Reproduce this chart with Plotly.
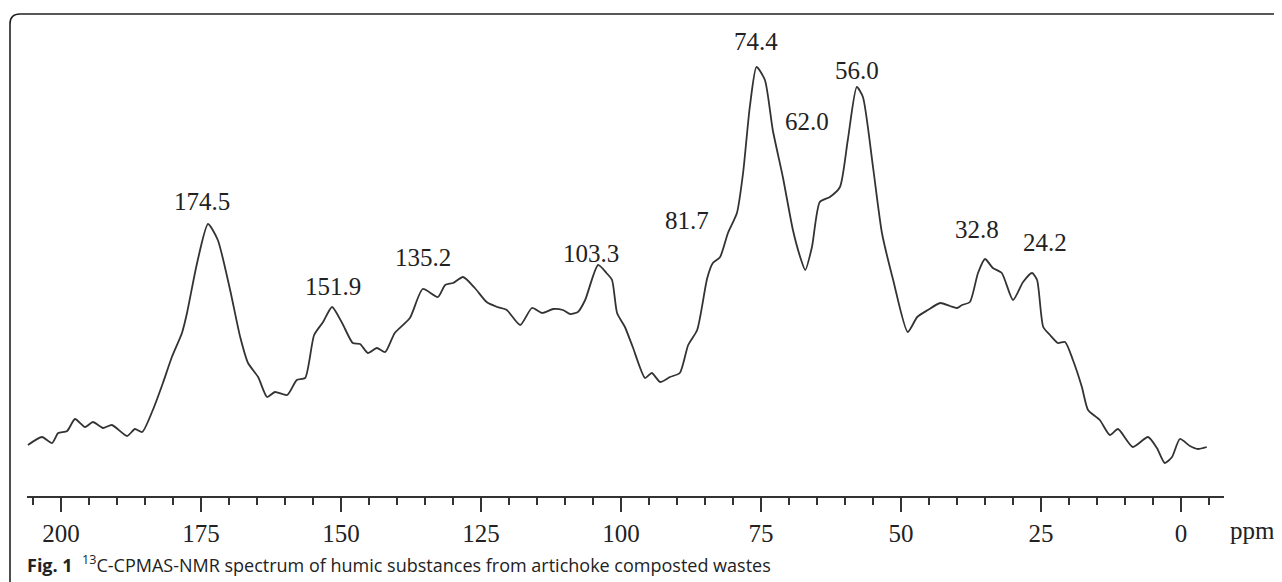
import plotly.graph_objects as go

# ---- data ----
ppm = [205.9, 203.4, 201.6, 200.5, 198.9, 197.5, 195.7, 194.3, 192.5, 190.9,
       188.2, 186.8, 185.5, 183.6, 181.8, 180.2, 178.4, 177.5, 175.7, 173.75,
       172.0, 169.8, 168.0, 166.6, 164.8, 163.2, 161.8, 159.6, 157.9, 156.4,
       154.8, 153.2, 151.6, 149.8, 147.9, 146.6, 145.2, 143.6, 142.1, 140.4,
       137.7, 135.4, 132.7, 131.4, 130.0, 128.2, 126.1, 124.0, 122.1, 120.4,
       118.0, 115.9, 114.1, 112.1, 110.4, 109.1, 107.7, 106.4, 104.1, 102.6,
       101.6, 100.7, 99.3, 97.9, 95.7, 94.5, 93.0, 91.25, 89.5, 88.0,
       86.4, 84.6, 83.6, 82.3, 80.9, 79.3, 78.2, 77.0, 75.8, 74.3,
       72.9, 71.1, 69.3, 68.0, 67.1, 65.9, 64.5, 62.7, 60.9, 59.5,
       57.9, 56.8, 55.0, 53.4, 51.4, 48.8, 47.1, 45.2, 43.0, 41.25,
       40.0, 39.1, 37.7, 36.25, 35.0, 33.6, 32.0, 30.0, 28.2, 26.6,
       25.7, 24.6, 23.4, 22.0, 20.7, 19.3, 17.7, 16.6, 14.5, 12.7,
       11.25, 8.6, 5.9, 4.3, 2.9, 1.6, 0.2, -1.6, -3.0, -4.6]
intensity = [35, 43, 37, 47, 49, 61, 53, 58, 52, 55,
             44, 51, 48, 70, 97, 123, 147, 167, 217, 256,
             240, 190, 143, 117, 103, 83, 88, 85, 100, 102,
             145, 158, 173, 157, 137, 136, 127, 132, 128, 147,
             162, 191, 183, 195, 197, 203, 192, 178, 173, 170,
             155, 172, 167, 171, 170, 166, 168, 180, 215, 207,
             200, 167, 153, 133, 102, 107, 98, 103, 107, 135,
             150, 202, 217, 223, 247, 267, 307, 373, 413, 400,
             350, 303, 250, 223, 210, 233, 278, 283, 293, 340,
             393, 383, 313, 247, 200, 148, 163, 170, 177, 174,
             172, 175, 178, 207, 221, 212, 207, 180, 198, 207,
             200, 153, 145, 137, 138, 120, 93, 70, 60, 45,
             51, 33, 43, 32, 17, 23, 41, 34, 31, 33]

peak_labels = ["174.5", "151.9", "135.2", "103.3", "81.7", "74.4", "62.0", "56.0", "32.8", "24.2"]
major_ticks = [200, 175, 150, 125, 100, 75, 50, 25, 0]
minor_ticks = [205, 195, 190, 185, 180, 170, 165, 160, 155, 145, 140, 135, 130,
               120, 115, 110, 105, 95, 90, 85, 80, 70, 65, 60, 55, 45, 40, 35, 30,
               20, 15, 10, 5, -5]
caption_bold = "Fig. 1"
caption_text = "C-CPMAS-NMR spectrum of humic substances from artichoke composted wastes"

# ---- layout geometry (reference-window pixels; page body has an 8 px margin) ----
OFF = 8
W, H = 1282 - OFF, 582 - OFF
L_ref, R_ref, T_ref, B_ref = 27, 1224, 14, 496
PX_PER_PPM = 5.6
X200_REF = 61


def xp(px):
    return (px - L_ref) / (R_ref - L_ref)


def yp(py):
    return (B_ref - py) / (B_ref - T_ref)


x_left = 200 - (L_ref - X200_REF) / PX_PER_PPM
x_right = 200 - (R_ref - X200_REF) / PX_PER_PPM

# label anchor positions (ppm, intensity)
label_pos = [(174.8, 279), (151.4, 194), (135.4, 223), (105.3, 227), (88.2, 260),
             (75.9, 439), (66.8, 359), (57.9, 410), (36.4, 251), (24.2, 238)]

fig = go.Figure()
fig.add_trace(go.Scatter(
    x=ppm, y=intensity, mode="lines",
    line=dict(color="#333333", width=1.8, shape="spline", smoothing=0.6),
    hoverinfo="skip", showlegend=False,
))

serif = "Liberation Serif, Times New Roman, serif"
annotations = []
for txt, (lx, ly) in zip(peak_labels, label_pos):
    annotations.append(dict(x=lx, y=ly, xref="x", yref="y", text=txt, showarrow=False,
                            xanchor="center", yanchor="middle",
                            font=dict(family=serif, size=25, color="#222")))
annotations.append(dict(x=xp(1252), y=yp(530), xref="paper", yref="paper", text="ppm",
                        showarrow=False, xanchor="center", yanchor="middle",
                        font=dict(family=serif, size=25, color="#222")))
annotations.append(dict(x=xp(25), y=yp(564), xref="paper", yref="paper",
                        text="<b>" + caption_bold + "</b>\u00a0\u00a0<sup>13</sup>" + caption_text,
                        showarrow=False, xanchor="left", yanchor="middle",
                        font=dict(family="Open Sans, sans-serif", size=18, color="#222")))

frame_path = (f"M {xp(10)} {yp(600)} L {xp(10)} {yp(24)} "
              f"Q {xp(10)} {yp(14)} {xp(20)} {yp(14)} L {xp(1300)} {yp(14)}")

fig.update_layout(
    width=W, height=H,
    margin=dict(l=L_ref - OFF, r=1282 - R_ref, t=T_ref - OFF, b=582 - B_ref),
    paper_bgcolor="white", plot_bgcolor="white",
    xaxis=dict(
        range=[x_left, x_right],
        showgrid=False, zeroline=False,
        showline=True, linecolor="#333", linewidth=2,
        ticks="outside", ticklen=14, tickwidth=2, tickcolor="#333",
        tickmode="array", tickvals=major_ticks,
        ticktext=[str(v) for v in major_ticks],
        tickfont=dict(family=serif, size=25, color="#222"),
        ticklabelstandoff=0,
        minor=dict(tickmode="array", tickvals=minor_ticks, ticks="outside",
                   ticklen=7, tickwidth=2, tickcolor="#333", showgrid=False),
    ),
    yaxis=dict(range=[480 - B_ref, 480 - T_ref], visible=False, fixedrange=True),
    annotations=annotations,
    shapes=[dict(type="path", path=frame_path, xref="paper", yref="paper",
                 line=dict(color="#222", width=1.6), layer="above")],
)

fig.write_html("out.html")
